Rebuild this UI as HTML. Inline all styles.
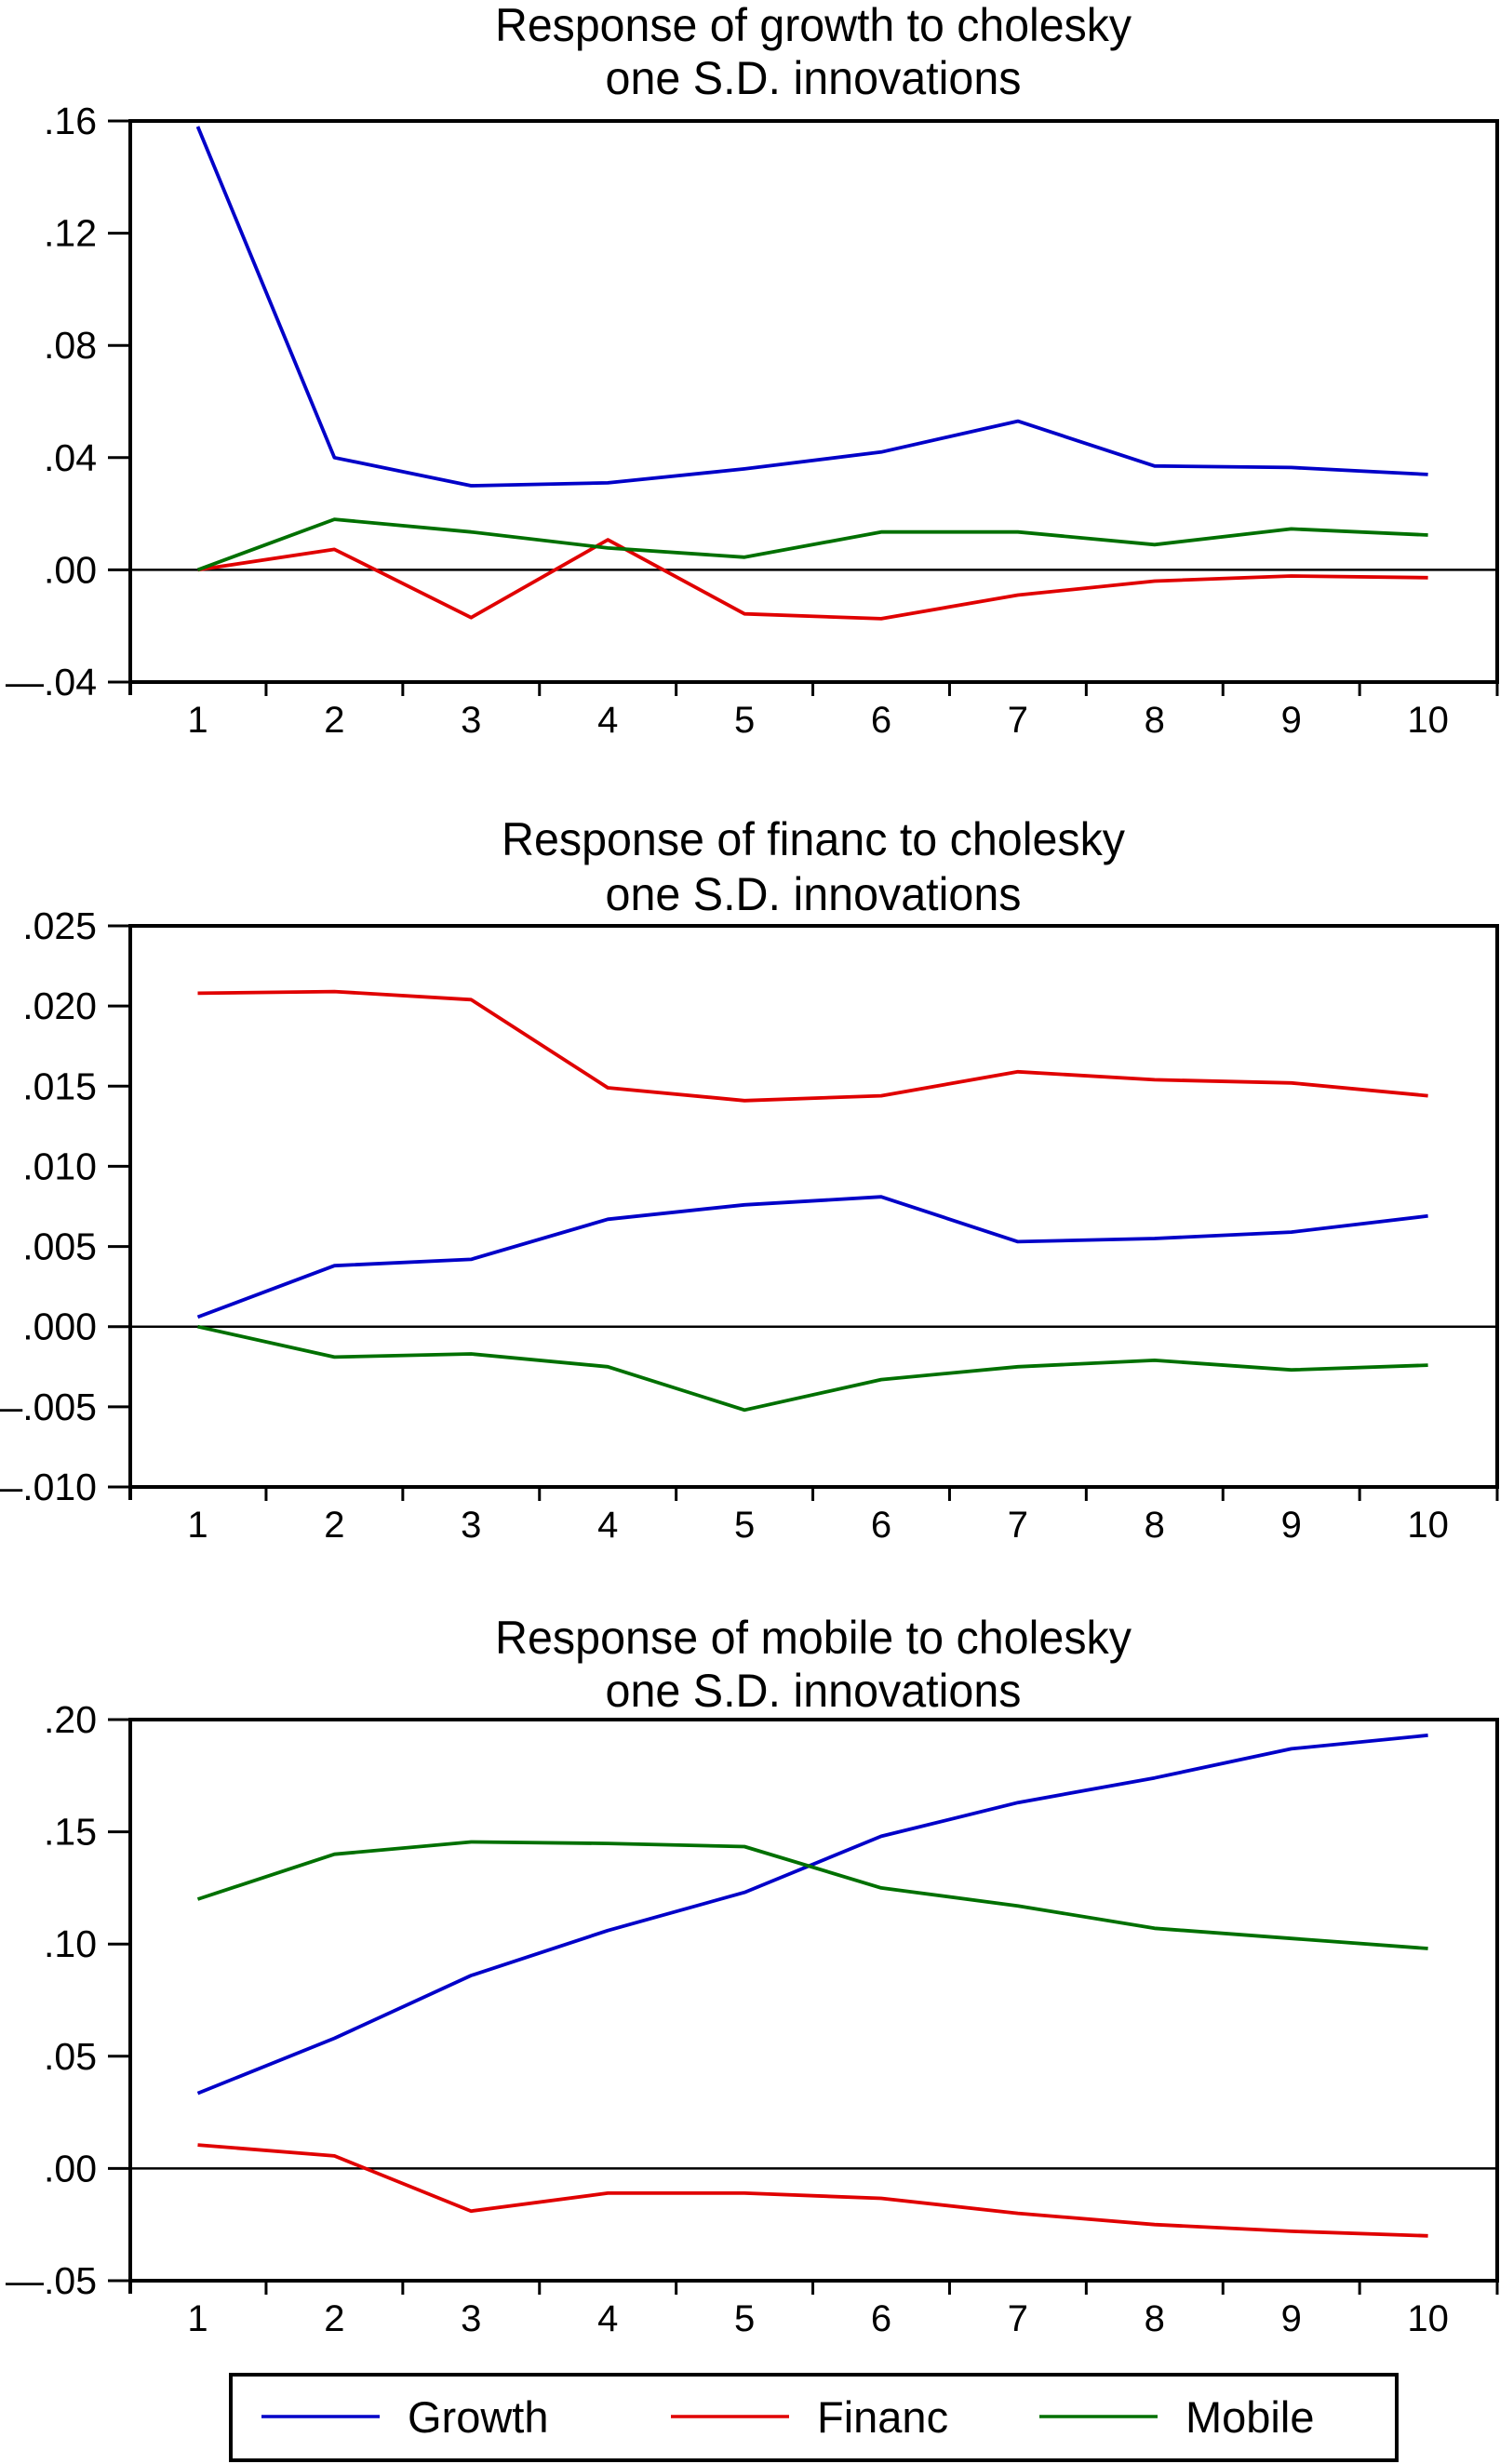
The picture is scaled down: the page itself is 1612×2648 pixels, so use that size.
<!DOCTYPE html>
<html><head><meta charset="utf-8"><style>
html,body{margin:0;padding:0;background:#fff;}
svg{display:block;font-family:"Liberation Sans",Arial,sans-serif;}
</style></head><body>
<svg id="root" width="1612" height="2648" viewBox="0 0 1612 2648"></svg>
<script>
const periods = [1,2,3,4,5,6,7,8,9,10];
const seriesNames = ["Growth","Financ","Mobile"];
const seriesColors = ["#0000c8","#e00000","#007000"];
// Panel 1: response of growth
const p1Growth = [0.158,0.040,0.030,0.031,0.036,0.042,0.053,0.037,0.0365,0.034];
const p1Financ = [0.000,0.0073,-0.017,0.0107,-0.0157,-0.0174,-0.009,-0.004,-0.0022,-0.0028];
const p1Mobile = [0.000,0.018,0.0135,0.0078,0.0045,0.0135,0.0135,0.009,0.0146,0.0124];
const p1Ticks = [0.16,0.12,0.08,0.04,0.00,-0.04];
const p1TickLabels = [".16",".12",".08",".04",".00","\u2014.04"];
// Panel 2: response of financ
const p2Growth = [0.0006,0.0038,0.0042,0.0067,0.0076,0.0081,0.0053,0.0055,0.0059,0.0069];
const p2Financ = [0.0208,0.0209,0.0204,0.0149,0.0141,0.0144,0.0159,0.0154,0.0152,0.0144];
const p2Mobile = [0.000,-0.0019,-0.0017,-0.0025,-0.0052,-0.0033,-0.0025,-0.0021,-0.0027,-0.0024];
const p2Ticks = [0.025,0.020,0.015,0.010,0.005,0.000,-0.005,-0.010];
const p2TickLabels = [".025",".020",".015",".010",".005",".000","\u2014.005","\u2014.010"];
// Panel 3: response of mobile
const p3Growth = [0.0335,0.058,0.086,0.106,0.123,0.148,0.163,0.174,0.187,0.193];
const p3Financ = [0.0105,0.0056,-0.019,-0.011,-0.011,-0.0133,-0.020,-0.025,-0.028,-0.030];
const p3Mobile = [0.120,0.140,0.1455,0.1448,0.1434,0.125,0.117,0.107,0.1025,0.098];
const p3Ticks = [0.20,0.15,0.10,0.05,0.00,-0.05];
const p3TickLabels = [".20",".15",".10",".05",".00","\u2014.05"];

const NS = "http://www.w3.org/2000/svg";
const root = document.getElementById("root");
function mk(tag, attrs, parent){
  const e = document.createElementNS(NS, tag);
  for (const k in attrs) e.setAttribute(k, attrs[k]);
  (parent||root).appendChild(e);
  return e;
}
const L = 140, R = 1609;
const x1 = 212.5, xStep = 146.9;
function xs(p){ return x1 + (p-1)*xStep; }

function panel(cfg){
  const g = mk("g", {});
  
  
  const vmax = cfg.ticks[0], vmin = cfg.ticks[cfg.ticks.length-1];
  const ys = v => cfg.top + (vmax - v) / (vmax - vmin) * (cfg.bottom - cfg.top);
  const t1 = mk("text", {x:874, y:cfg.titleY1, "font-size":50, "text-anchor":"middle", textLength:cfg.tw1, lengthAdjust:"spacingAndGlyphs"}, g);
  t1.textContent = cfg.title1;
  
  
  const t2 = mk("text", {x:874, y:cfg.titleY2, "font-size":50, "text-anchor":"middle", textLength:447, lengthAdjust:"spacingAndGlyphs"}, g);
  t2.textContent = "one S.D. innovations";
  
  
  const fr = mk("rect", {x:L, y:cfg.top, width:R-L, height:cfg.bottom-cfg.top, fill:"none", stroke:"#000", "stroke-width":4}, g);
  
  
  mk("line", {x1:L, y1:cfg.bottom, x2:L, y2:cfg.bottom+14, stroke:"#000","stroke-width":4}, g);
  const z = mk("line", {x1:L, y1:ys(0), x2:R, y2:ys(0), stroke:"#000","stroke-width":2.5}, g);
  
  
  cfg.ticks.forEach((v,i)=>{
    mk("line", {x1:116, y1:ys(v), x2:L, y2:ys(v), stroke:"#000","stroke-width":3}, g);
    const tl = mk("text", {x:104, y:ys(v)+14, "font-size":41, "text-anchor":"end"}, g);
    tl.textContent = cfg.tickLabels[i];
    
    
  });
  for (let k=0;k<9;k++){
    const xx = xs(1.5+k);
    mk("line", {x1:xx, y1:cfg.bottom, x2:xx, y2:cfg.bottom+15, stroke:"#000","stroke-width":3}, g);
  }
  mk("line", {x1:R, y1:cfg.bottom, x2:R, y2:cfg.bottom+15, stroke:"#000","stroke-width":3}, g);
  periods.forEach(p=>{
    const xl = mk("text", {x:xs(p), y:cfg.bottom+54, "font-size":40, "text-anchor":"middle"}, g);
    xl.textContent = String(p);
    
    
  });
  cfg.series.forEach((arr,si)=>{
    const pts = arr.map((v,i)=> xs(periods[i]).toFixed(1)+","+ys(v).toFixed(1)).join(" ");
    const pl = mk("polyline", {points:pts, fill:"none", stroke:seriesColors[si], "stroke-width":3.8, "stroke-linejoin":"round"}, g);
    
    
  });
}

panel({name:"panel-growth-response", title1:"Response of growth to cholesky", tw1:684, titleY1:44, titleY2:101, top:130, bottom:733,
  ticks:p1Ticks, tickLabels:p1TickLabels, series:[p1Growth,p1Financ,p1Mobile]});
panel({name:"panel-financ-response", title1:"Response of financ to cholesky", tw1:670, titleY1:919, titleY2:978, top:995, bottom:1598,
  ticks:p2Ticks, tickLabels:p2TickLabels, series:[p2Growth,p2Financ,p2Mobile]});
panel({name:"panel-mobile-response", title1:"Response of mobile to cholesky", tw1:684, titleY1:1777, titleY2:1834, top:1848, bottom:2451,
  ticks:p3Ticks, tickLabels:p3TickLabels, series:[p3Growth,p3Financ,p3Mobile]});

const lg = mk("g", {});


mk("rect", {x:248, y:2552, width:1253, height:92, fill:"none", stroke:"#000", "stroke-width":4}, lg);
const legX = [281, 721, 1117];
seriesNames.forEach((n,i)=>{
  const e = mk("g", {}, lg);
  
  
  mk("line", {x1:legX[i], y1:2597, x2:legX[i]+127, y2:2597, stroke:seriesColors[i], "stroke-width":3.5}, e);
  const t = mk("text", {x:legX[i]+157, y:2614, "font-size":47}, e);
  t.textContent = n;
});
</script>
</body></html>
